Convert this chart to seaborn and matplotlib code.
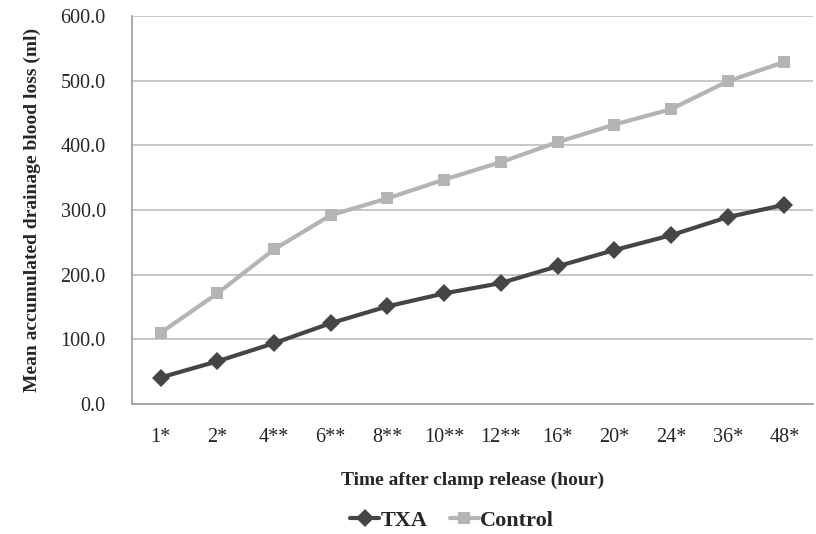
import pandas as pd
import matplotlib.pyplot as plt
import seaborn as sns

# Values
time_labels = ["1*", "2*", "4**", "6**", "8**", "10**", "12**", "16*", "20*", "24*", "36*", "48*"]
txa_loss = [41, 66, 94, 125, 151, 171, 187, 213, 238, 261, 289, 308]
control_loss = [110, 171, 239, 292, 318, 347, 374, 405, 432, 456, 499, 529]

data = pd.DataFrame({
    "time": time_labels * 2,
    "loss": txa_loss + control_loss,
    "group": ["TXA"] * len(time_labels) + ["Control"] * len(time_labels),
})

sns.set_style("white")
plt.rcParams["font.family"] = ["Liberation Serif", "DejaVu Serif"]

fig = plt.figure(figsize=(8.16, 5.34), dpi=100)
ax = fig.add_axes([0.162, 0.2434, 0.834, 0.7266])

sns.lineplot(
    data=data, x="time", y="loss", hue="group", style="group",
    palette={"TXA": "#454545", "Control": "#b4b4b4"},
    markers={"TXA": "D", "Control": "s"}, dashes=False,
    markersize=9, linewidth=3, markeredgewidth=0, sort=False, ax=ax,
)

ax.set_ylim(0, 600)
ax.set_xlim(-0.5, len(time_labels) - 0.5)
ax.set_yticks(range(0, 601, 100))
ax.set_yticklabels([f"{v:.1f}" for v in range(0, 601, 100)], fontsize=14.5)
ax.set_xticks(range(len(time_labels)))
ax.set_xticklabels(time_labels, fontsize=14.5)
ax.set_xticks([i - 0.5 for i in range(len(time_labels) + 1)], minor=True)
ax.tick_params(axis="x", which="major", length=0, pad=17)
ax.tick_params(axis="x", which="minor", length=5, color="#a09a98", direction="out")
ax.tick_params(axis="y", length=5, color="#a09a98", direction="out", pad=14)

ax.grid(axis="y", color="#c4bcb8", linewidth=1.2)
ax.set_axisbelow(True)
for side in ["top", "right"]:
    ax.spines[side].set_visible(False)
for side in ["left", "bottom"]:
    ax.spines[side].set_color("#a09a98")
    ax.spines[side].set_linewidth(1.2)

ax.set_xlabel("Time after clamp release (hour)", fontsize=14, fontweight="bold", labelpad=18)
ax.set_ylabel("Mean accumulated drainage blood loss (ml)", fontsize=14, fontweight="bold", labelpad=14)

handles, labels = ax.get_legend_handles_labels()
ax.legend(handles, labels, loc="center", bbox_to_anchor=(0.47, -0.3), ncol=2,
          frameon=False, handlelength=1.3, handletextpad=0.05, columnspacing=1.0,
          borderpad=0.2, prop={"family": "Liberation Serif", "weight": "bold", "size": 16})

fig.savefig("out.png", dpi=100)
